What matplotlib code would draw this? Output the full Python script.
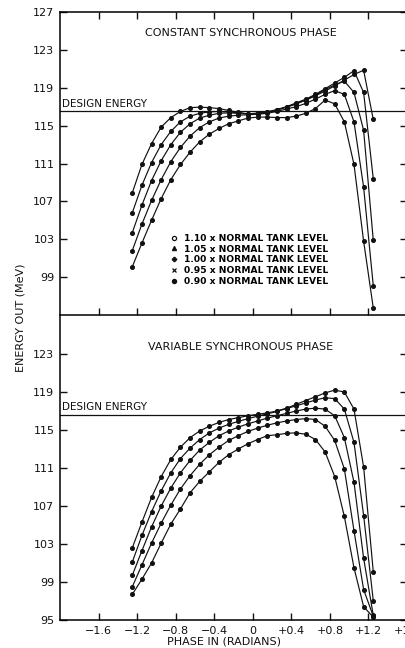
import matplotlib
matplotlib.use("Agg")
import matplotlib.pyplot as plt
from matplotlib.lines import Line2D

plt.rcParams["font.family"] = ["DejaVu Sans"]
plt.rcParams["axes.linewidth"] = 1.1

phase = [-1.25, -1.15, -1.05, -0.95, -0.85, -0.75, -0.65, -0.55, -0.45, -0.35,
         -0.25, -0.15, -0.05, 0.05, 0.15, 0.25, 0.35, 0.45, 0.55, 0.65,
         0.75, 0.85, 0.95, 1.05, 1.15, 1.25]

levels = ["1.10", "1.05", "1.00", "0.95", "0.90"]

# constant synchronous phase
const_110 = [107.9, 110.9, 113.1, 114.85, 115.85, 116.5, 116.9, 116.95, 116.9, 116.8,
             116.6, 116.4, 116.2, 116.2, 116.4, 116.65, 116.95, 117.3, 117.7, 118.15,
             118.65, 119.2, 119.8, 120.4, 120.85, 115.65]
const_105 = [105.8, 108.7, 111.1, 113.0, 114.4, 115.4, 116.0, 116.3, 116.45, 116.5,
             116.45, 116.35, 116.25, 116.3, 116.45, 116.7, 117.0, 117.4, 117.8, 118.3,
             118.9, 119.5, 120.1, 120.8, 118.5, 109.4]
const_100 = [103.7, 106.6, 109.2, 111.3, 113.0, 114.3, 115.2, 115.8, 116.1, 116.3,
             116.35, 116.3, 116.25, 116.3, 116.4, 116.65, 116.95, 117.3, 117.7, 118.2,
             118.8, 119.3, 119.7, 118.5, 114.5, 102.9]
const_095 = [101.8, 104.6, 107.1, 109.3, 111.2, 112.7, 113.9, 114.8, 115.4, 115.8,
             116.0, 116.1, 116.15, 116.2, 116.3, 116.5, 116.75, 117.0, 117.35, 117.8,
             118.3, 118.7, 118.3, 115.4, 108.5, 98.1]
const_090 = [100.1, 102.6, 105.0, 107.3, 109.3, 110.9, 112.2, 113.3, 114.1, 114.7,
             115.2, 115.5, 115.8, 115.9, 115.9, 115.85, 115.85, 116.0, 116.3, 116.8,
             117.7, 117.3, 115.4, 110.9, 102.8, 95.75]

# variable synchronous phase
var_110 = [102.6, 105.3, 107.9, 110.1, 111.9, 113.2, 114.2, 114.9, 115.4, 115.8,
           116.1, 116.3, 116.5, 116.65, 116.8, 117.0, 117.3, 117.7, 118.1, 118.5,
           118.9, 119.2, 119.0, 117.2, 111.1, 100.1]
var_105 = [101.1, 103.9, 106.4, 108.6, 110.5, 112.0, 113.1, 114.0, 114.7, 115.2,
           115.6, 115.9, 116.2, 116.45, 116.7, 116.95, 117.25, 117.55, 117.85, 118.15,
           118.4, 118.3, 117.2, 113.7, 106.0, 97.05]
var_100 = [99.7, 102.3, 104.8, 107.0, 108.9, 110.5, 111.8, 112.9, 113.7, 114.4,
           114.9, 115.3, 115.65, 115.95, 116.25, 116.5, 116.75, 117.0, 117.2, 117.3,
           117.2, 116.5, 114.2, 109.5, 101.5, 95.5]
var_095 = [98.5, 100.8, 103.1, 105.2, 107.1, 108.8, 110.2, 111.4, 112.4, 113.2,
           113.9, 114.4, 114.85, 115.2, 115.5, 115.75, 115.95, 116.1, 116.2, 116.1,
           115.4, 113.9, 110.9, 104.4, 98.2, 95.4]
var_090 = [97.7, 99.3, 101.0, 103.1, 105.1, 106.7, 108.4, 109.6, 110.6, 111.6,
           112.4, 113.0, 113.55, 114.0, 114.4, 114.5, 114.65, 114.7, 114.55, 114.0,
           112.7, 110.1, 105.9, 100.5, 96.4, 95.3]

design_energy = [116.53, 116.6]

xticks = [-1.6, -1.2, -0.8, -0.4, 0.0, 0.4, 0.8, 1.2, 1.6]
xticklabels = ["\u22121.6", "\u22121.2", "\u22120.8", "\u22120.4", "0",
               "+0.4", "+0.8", "+1.2", "+1.6"]
top_yticks = [99, 103, 107, 111, 115, 119, 123, 127]
bot_yticks = [95, 99, 103, 107, 111, 115, 119, 123]

legend_markers = [dict(marker="o", mfc="white"), dict(marker="^"), dict(marker="P"),
                  dict(marker="x"), dict(marker="o")]
ink = "#111111"

fig = plt.figure(figsize=(4.05, 6.48), dpi=100)
ax_top = fig.add_axes([60 / 405, 1 - 315 / 648, 347 / 405, 303 / 648])
ax_bot = fig.add_axes([60 / 405, 1 - 620 / 648, 347 / 405, 304 / 648])

panels = [
    (ax_top, [const_110, const_105, const_100, const_095, const_090],
     "CONSTANT SYNCHRONOUS PHASE", 0.93, design_energy[0], top_yticks),
    (ax_bot, [var_110, var_105, var_100, var_095, var_090],
     "VARIABLE SYNCHRONOUS PHASE", 0.898, design_energy[1], bot_yticks),
]

for ax, series, title, ty, de, yt in panels:
    for vals in series:
        # on the curves every marker prints as a small dot
        ax.plot(phase, vals, "-o", color=ink, lw=0.85, ms=2.6, mec=ink, mfc=ink)
    ax.axhline(de, color=ink, lw=0.9)
    ax.text(-1.98, de + 0.25, "DESIGN ENERGY", fontsize=7.5, ha="left",
            va="bottom", color=ink)
    ax.text(0.52, ty, title, transform=ax.transAxes, ha="center", va="center",
            fontsize=8, color=ink)
    ax.set_xlim(-2.0, 1.6)
    ax.set_ylim(95, 127)
    ax.set_yticks(yt)
    ax.set_yticklabels([str(v) for v in yt])
    ax.set_xticks(xticks)
    ax.tick_params(direction="in", length=5, width=1.0, labelsize=8,
                   colors=ink, right=True, pad=4)

ax_top.tick_params(top=True, bottom=True, labelbottom=False)
ax_bot.tick_params(top=False, bottom=True)
ax_bot.set_xticklabels(xticklabels)
ax_bot.spines["top"].set_visible(False)

handles = [Line2D([], [], ls="none", color=ink, mec=ink, ms=3.0, mew=0.9,
                  **({"mfc": ink} | mk)) for mk in legend_markers]
labels = [f"{lev} x NORMAL TANK LEVEL" for lev in levels]
ax_top.legend(handles, labels, loc="upper left", bbox_to_anchor=(0.31, 0.28),
              frameon=False, handlelength=0.6, handletextpad=0.8,
              labelspacing=0.2, borderaxespad=0,
              prop={"size": 6.6, "weight": "bold"})

fig.text(224 / 405, 1 - 642 / 648, "PHASE IN (RADIANS)", ha="center",
         va="center", fontsize=8, color=ink)
fig.text(21 / 405, 1 - 318 / 648, "ENERGY OUT (MeV)", ha="center",
         va="center", rotation=90, fontsize=8, color=ink)

fig.savefig("out.png", dpi=100)
